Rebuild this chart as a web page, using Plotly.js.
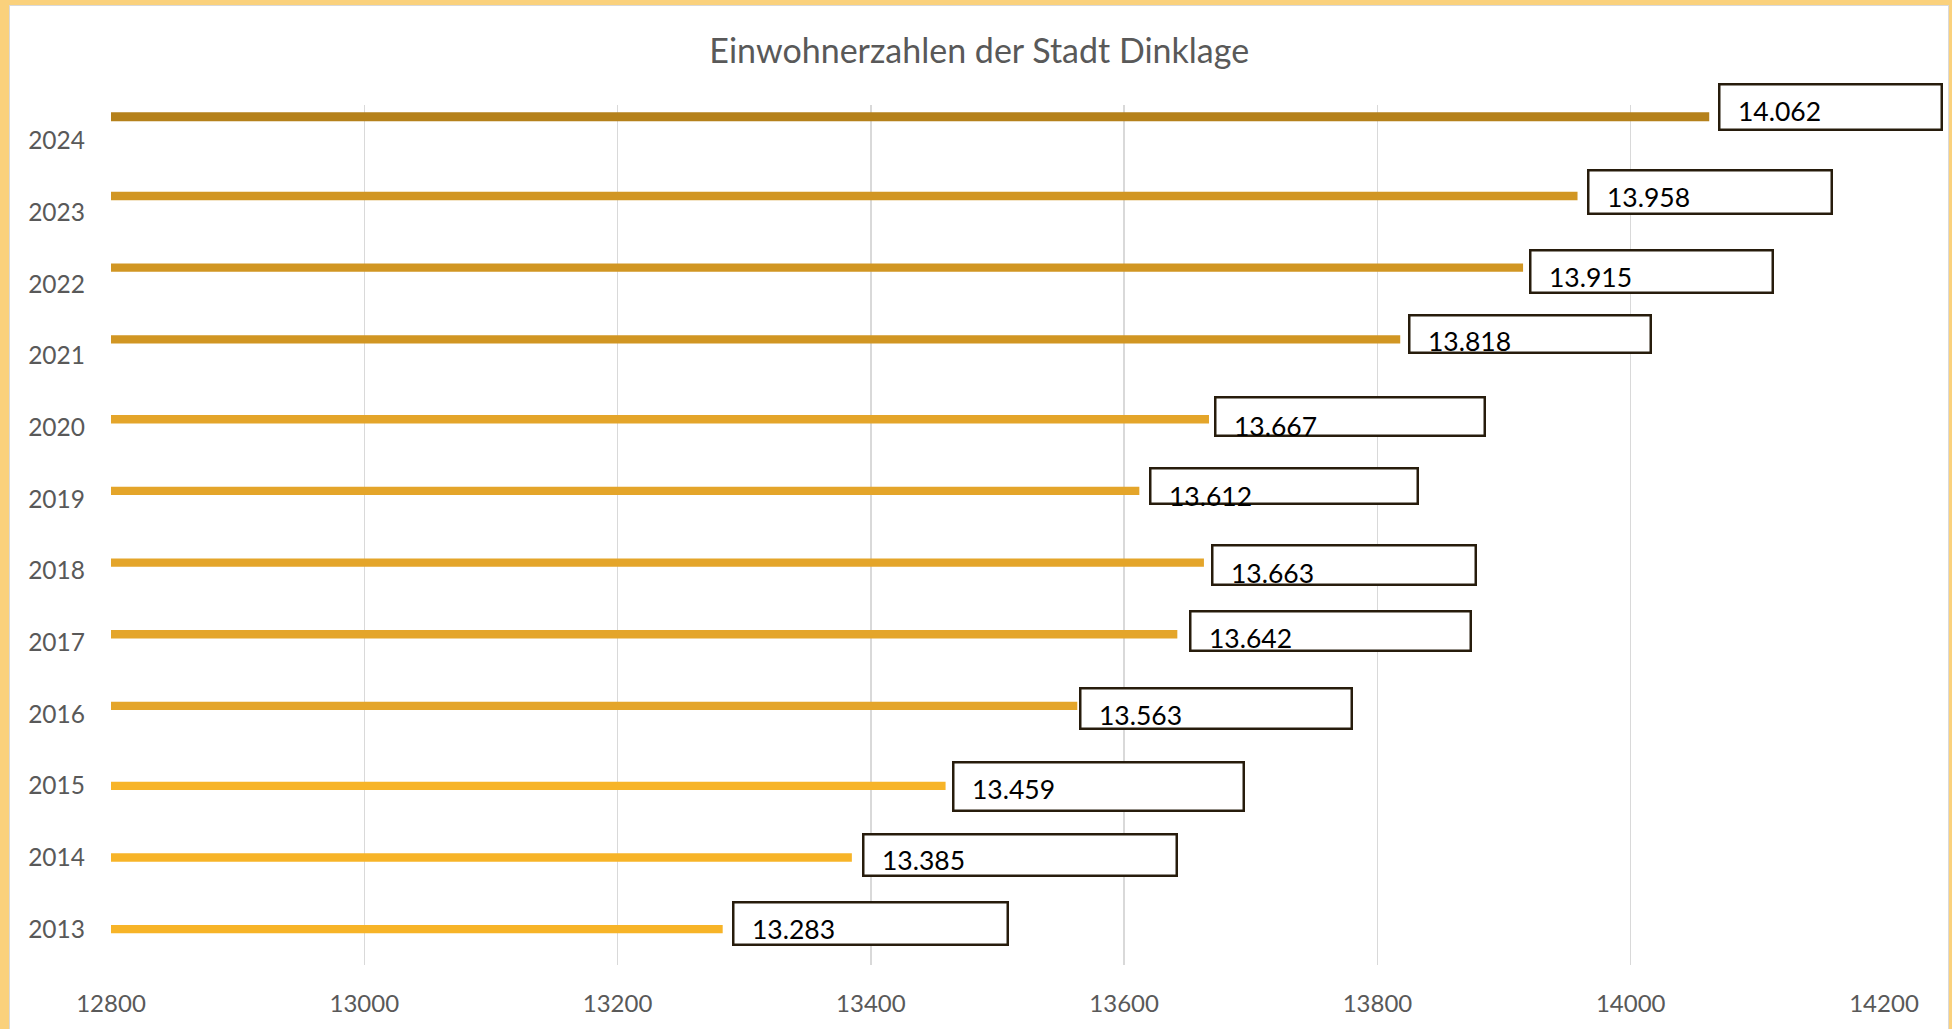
<!DOCTYPE html>
<html>
<head>
<meta charset="utf-8">
<script src="https://cdn.plot.ly/plotly-3.0.1.min.js"></script>
<style>
  html, body { margin:0; padding:0; width:1952px; height:1029px; overflow:hidden; background:#FAD17C; }
  #frame { position:absolute; left:9px; top:5px; width:1938px; height:1030px; background:#fff; border:1px solid #d9d9d9; }
  #chart { position:absolute; left:0; top:0; width:1938px; height:1023px; }
</style>
</head>
<body>
<div id="frame"><div id="chart"></div></div>
<script>
// ---- data ----
const years = ['2013','2014','2015','2016','2017','2018','2019','2020','2021','2022','2023','2024'];
const population = [13283, 13385, 13459, 13563, 13642, 13663, 13612, 13667, 13818, 13915, 13958, 14062];
// colour groups of the original (series membership per year)
const seriesA = ['2013','2014','2015'];
const seriesB = ['2016','2017','2018','2019','2020'];
const seriesC = ['2021','2022','2023'];
const seriesD = ['2024'];
const xTicks = [12800, 13000, 13200, 13400, 13600, 13800, 14000, 14200];
const chartTitle = 'Einwohnerzahlen der Stadt Dinklage';

// ---- styles ----
const FONT = 'Lato, "Open Sans", sans-serif';
const seriesStyle = [
  {years: seriesA, color: '#F7B428', center: 0.000, width: 0.116},
  {years: seriesB, color: '#E4A52A', center: 0.115, width: 0.116},
  {years: seriesC, color: '#D19623', center: 0.230, width: 0.116},
  {years: seriesD, color: '#B5811B', center: 0.335, width: 0.126}
];
// label box geometry in pixels: [gap after bar end, width, above bar centre, below bar centre, text drop]
const boxStyle = {
  '2013': [9.5, 277, 28, 17, -0.5],
  '2014': [10, 316, 25, 19, 2],
  '2015': [6, 293, 25, 26, 3],
  '2016': [2, 274, 19, 24, 9],
  '2017': [12, 283, 24, 18, 4],
  '2018': [7, 266, 19, 23, 10],
  '2019': [10, 270, 24, 14, 5],
  '2020': [5, 272, 23, 18, 7],
  '2021': [7.5, 244, 25, 15, 2],
  '2022': [6, 245, 19, 26, 9],
  '2023': [9.5, 246, 27, 19, 1],
  '2024': [9, 225, 34, 14, -6]
};
const BOX_BW = 2.5;

function fmtDE(v) {
  return Math.floor(v / 1000) + '.' + String(v % 1000).padStart(3, '0');
}

const traces = seriesStyle.map(s => {
  const ys = s.years;
  const xs = ys.map(y => population[years.indexOf(y)]);
  return {
    type: 'bar', orientation: 'h',
    x: xs, y: ys,
    base: 0,
    offset: s.center - s.width / 2,
    width: s.width,
    marker: {color: s.color, line: {width: 0}},
    hoverinfo: 'skip',
    showlegend: false
  };
});

const boxAnns = [];
const textAnns = [];
seriesStyle.forEach(s => {
  s.years.forEach(y => {
    const i = years.indexOf(y);
    const v = population[i];
    const b = boxStyle[y];
    const yc = i + s.center;
    const H = b[2] + b[3];
    boxAnns.push({
      xref: 'x', yref: 'y', x: v, y: yc,
      xanchor: 'left', yanchor: 'top',
      xshift: b[0], yshift: b[2],
      width: b[1] - 2 * BOX_BW, height: H - 2 * BOX_BW,
      text: '&nbsp;', showarrow: false,
      bgcolor: '#ffffff', bordercolor: '#271c0c', borderwidth: BOX_BW, borderpad: 0,
      font: {family: FONT, size: 10, color: '#ffffff'}
    });
    textAnns.push({
      xref: 'x', yref: 'y', x: v, y: yc,
      xanchor: 'left', yanchor: 'middle',
      xshift: b[0] + 18, yshift: -b[4],
      text: fmtDE(v), showarrow: false,
      font: {family: FONT, size: 26.5, color: '#000000'}
    });
  });
});

const layout = {
  width: 1938, height: 1023,
  margin: {l: 101, r: 64, t: 99, b: 64},
  paper_bgcolor: '#ffffff', plot_bgcolor: '#ffffff',
  barmode: 'overlay',
  title: {
    text: chartTitle,
    font: {family: FONT, size: 34, color: '#595959'},
    x: 0.4897, xanchor: 'center', xref: 'paper',
    y: 0.956, yanchor: 'middle', yref: 'container'
  },
  xaxis: {
    range: [12800, 14200],
    tickvals: xTicks,
    ticktext: xTicks.map(String),
    showgrid: true, gridcolor: '#d9d9d9', gridwidth: 1.3,
    zeroline: false, showline: false, ticks: '',
    ticklabelstandoff: 22,
    tickfont: {family: FONT, size: 24, color: '#595959'}
  },
  yaxis: {
    type: 'category',
    categoryorder: 'array', categoryarray: years,
    range: [-0.5, 11.5],
    showgrid: false, zeroline: false, showline: false, ticks: '',
    ticklabelstandoff: 25,
    tickfont: {family: FONT, size: 24.5, color: '#595959'}
  },
  annotations: boxAnns.concat(textAnns)
};

Plotly.newPlot('chart', traces, layout, {displayModeBar: false, staticPlot: true});
</script>
</body>
</html>
